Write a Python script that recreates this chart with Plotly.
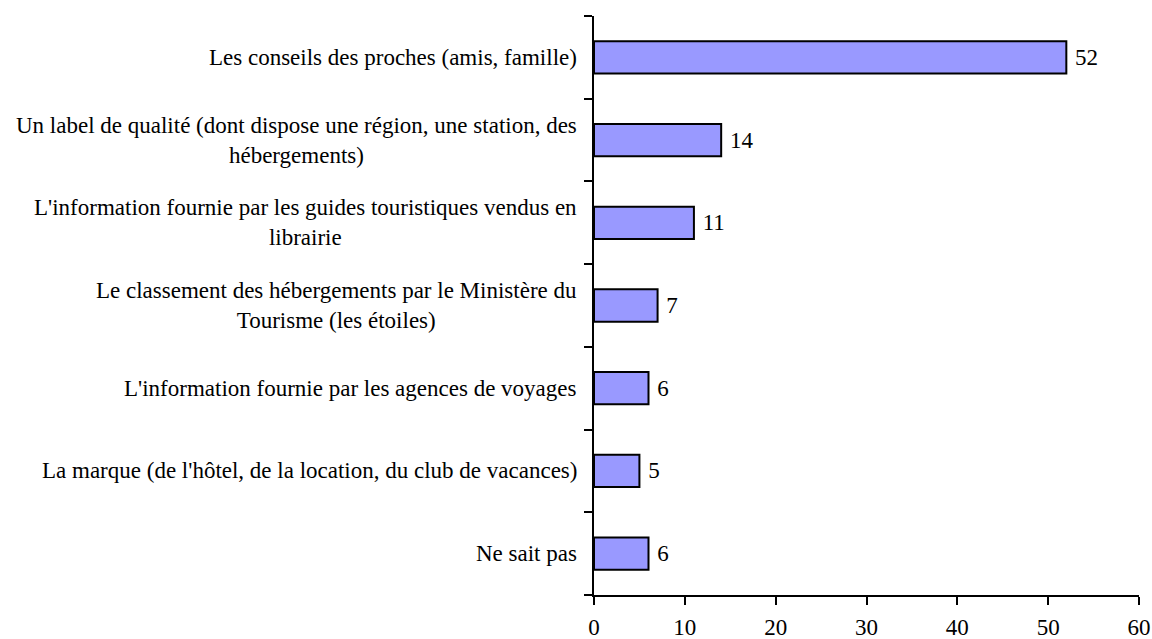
import plotly.graph_objects as go

categories = [
    "Les conseils des proches (amis, famille)",
    "Un label de qualité (dont dispose une région, une station, des<br>hébergements)",
    "L'information fournie par les guides touristiques vendus en<br>librairie",
    "Le classement des hébergements par le Ministère du<br>Tourisme (les étoiles)",
    "L'information fournie par les agences de voyages",
    "La marque (de l'hôtel, de la location, du club de vacances)",
    "Ne sait pas",
]
values = [52, 14, 11, 7, 6, 5, 6]
x_ticks = [0, 10, 20, 30, 40, 50, 60]

FONT = "Liberation Serif"
FS = 23

fig = go.Figure()
fig.add_trace(go.Bar(
    y=list(range(len(categories))),
    x=values,
    orientation="h",
    marker=dict(color="#9999FF", line=dict(color="black", width=2)),
    texttemplate="\u00a0%{x}",
    textposition="outside",
    textfont=dict(family=FONT, size=FS, color="black"),
    cliponaxis=False,
    width=0.39,
))

for i, c in enumerate(categories):
    fig.add_annotation(
        x=0, y=i, xref="x", yref="y", text=c, showarrow=False,
        xanchor="right", yanchor="middle", align="center", xshift=-15,
        font=dict(family=FONT, size=FS, color="black"),
    )

fig.update_layout(
    width=1152, height=639,
    margin=dict(l=594, r=13, t=16, b=44, autoexpand=False),
    paper_bgcolor="white", plot_bgcolor="white",
    showlegend=False,
    font=dict(family=FONT, size=FS, color="black"),
)
fig.update_xaxes(
    range=[0, 60], tickvals=x_ticks, ticktext=[str(t) for t in x_ticks],
    showgrid=False, zeroline=False, showline=True, linecolor="black", linewidth=2,
    ticks="outside", ticklen=8, tickwidth=2, tickcolor="black",
    tickfont=dict(family=FONT, size=FS, color="black"),
    ticklabelstandoff=2,
    automargin=False,
)
fig.update_yaxes(
    range=[len(categories) - 0.5, -0.5],
    tickvals=[i - 0.5 for i in range(len(categories) + 1)],
    showticklabels=False,
    showgrid=False, zeroline=False, showline=True, linecolor="black", linewidth=2,
    ticks="outside", ticklen=8, tickwidth=2, tickcolor="black",
    automargin=False,
)

fig.write_html(
    "out.html",
    config={"displayModeBar": False},
    post_script="document.body.style.margin='0px';document.body.style.overflow='hidden';",
)
